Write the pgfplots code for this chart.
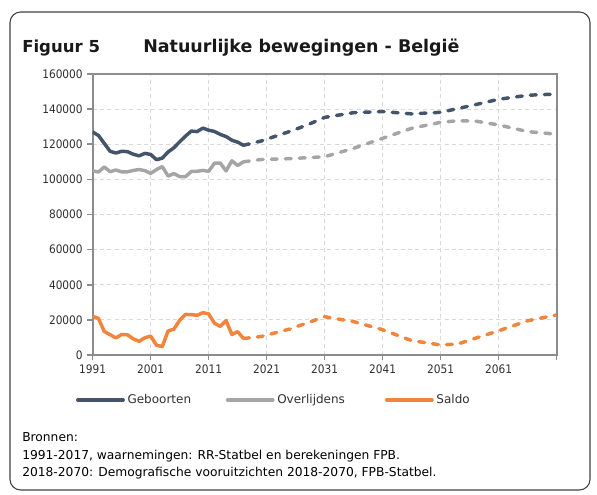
\documentclass[border=0pt]{standalone}
\usepackage{fontspec}
\setmainfont{DejaVu Sans Condensed}
\newfontfamily\wide{DejaVu Sans}
\usepackage{pgfplots}
\usepackage{pgfplotstable}
\pgfplotsset{compat=1.18}

\definecolor{geb}{HTML}{44546A}
\definecolor{ovl}{HTML}{A5A5A5}
\definecolor{sal}{HTML}{F3843C}
\definecolor{axgray}{HTML}{8C8C8C}
\definecolor{gridgray}{HTML}{D9D9D9}
\definecolor{txt}{HTML}{303030}

% waarnemingen 1991-2017
\pgfplotstableread{
year geb ovl sal
1991 127000 104900 22100
1992 125000 104200 20800
1993 120500 107100 13400
1994 116000 104400 11600
1995 115000 105300 9700
1996 116000 104300 11700
1997 115800 104300 11500
1998 114300 105100 9200
1999 113400 105600 7800
2000 114800 105000 9800
2001 114200 103400 10800
2002 111200 105600 5600
2003 112100 107300 4800
2004 115600 101900 13700
2005 118000 103300 14700
2006 121400 101600 19800
2007 124600 101500 23100
2008 127500 104500 23000
2009 127200 104600 22600
2010 129200 105100 24100
2011 128000 104600 23400
2012 127300 109200 18100
2013 125600 109300 16300
2014 124400 104800 19600
2015 122300 110600 11700
2016 121200 107900 13300
2017 119400 110000 9400
}\obs

% vooruitzichten 2018-2070
\pgfplotstableread{
year geb
2017 119400
2020 121800
2025 127300
2028 131000
2031 135300
2036 138000
2041 138600
2046 137300
2051 138200
2056 141800
2061 145600
2066 147900
2071 148600
}\projgeb

\pgfplotstableread{
year ovl
2017 110000
2020 111300
2025 111800
2031 112900
2036 117700
2041 123400
2046 129100
2051 132500
2054 133400
2057 133200
2061 131000
2066 127200
2071 125700
}\projovl

\pgfplotstableread{
year sal
2017 9400
2020 10500
2025 14800
2031 21800
2036 19000
2041 14400
2046 8200
2051 5700
2054 6300
2056 8500
2061 13800
2066 19500
2071 22800
}\projsal

\begin{document}
\begin{tikzpicture}
\useasboundingbox (0,0) rectangle (447.75pt,-370.5pt);
\begin{scope}[x=0.75pt,y=-0.75pt]
\draw[rounded corners=8pt, line width=0.8pt, black!75] (10,12) rectangle (590,490);
\node[anchor=base west, inner sep=0, font=\wide\bfseries\fontsize{12.4}{14}\selectfont, text=black!90] at (22,52) {Figuur 5};
\node[anchor=base west, inner sep=0, font=\wide\bfseries\fontsize{13.1}{14}\selectfont, text=black!90] at (143,52) {Natuurlijke bewegingen - België};
\node[anchor=base west, inner sep=0, font=\wide\fontsize{9.2}{10}\selectfont] at (22,441) {Bronnen:};
\node[anchor=base west, inner sep=0, font=\wide\fontsize{9.2}{10}\selectfont] at (22,459) {1991-2017, waarnemingen: RR-Statbel en berekeningen FPB.};
\node[anchor=base west, inner sep=0, font=\wide\fontsize{9.2}{10}\selectfont] at (22,476) {2018-2070: Demografische vooruitzichten 2018-2070, FPB-Statbel.};
\end{scope}
\begin{axis}[
  at={(69.5pt,-266.25pt)}, anchor=south west,
  scale only axis, width=348pt, height=210.75pt,
  xmin=1991, xmax=2071, ymin=0, ymax=160000,
  xtick={1991,2001,...,2071},
  xticklabels={1991,2001,2011,2021,2031,2041,2051,2061,},
  ytick={0,20000,...,160000},
  scaled y ticks=false,
  yticklabel style={/pgf/number format/.cd, fixed, 1000 sep={}, assume math mode=true},
  ticklabel style={font=\fontsize{8.8}{10}\selectfont, text=txt},
  grid=major,
  grid style={gridgray, line width=0.7pt, dash pattern=on 3pt off 2.5pt},
  axis line style={axgray, line width=1.5pt},
  tick style={axgray, line width=1.2pt},
  tick align=outside, tick pos=left, major tick length=4pt,
  legend columns=3,
  legend style={at={(-0.045,-0.16)}, anchor=west, draw=none, fill=none,
    font=\wide\fontsize{9}{10}\selectfont, text=txt,
    /tikz/column 2/.style={column sep=24pt},
    /tikz/column 4/.style={column sep=28pt}},
  legend image code/.code={\draw[#1, line cap=round] (0pt,0pt) -- (34pt,0pt);},
  solid line/.style={line width=2.6pt, line join=round},
  proj line/.style={line width=2.6pt, line join=round, line cap=round, dash pattern=on 4.4pt off 6.1pt},
]
\addplot[geb, solid line] table[x=year, y=geb] {\obs};
\addlegendentry{Geboorten}
\addplot[ovl, solid line] table[x=year, y=ovl] {\obs};
\addlegendentry{Overlijdens}
\addplot[sal, solid line] table[x=year, y=sal] {\obs};
\addlegendentry{Saldo}
\addplot[geb, proj line, forget plot] table[x=year, y=geb] {\projgeb};
\addplot[ovl, proj line, forget plot] table[x=year, y=ovl] {\projovl};
\addplot[sal, proj line, forget plot] table[x=year, y=sal] {\projsal};
\end{axis}
\end{tikzpicture}
\end{document}
